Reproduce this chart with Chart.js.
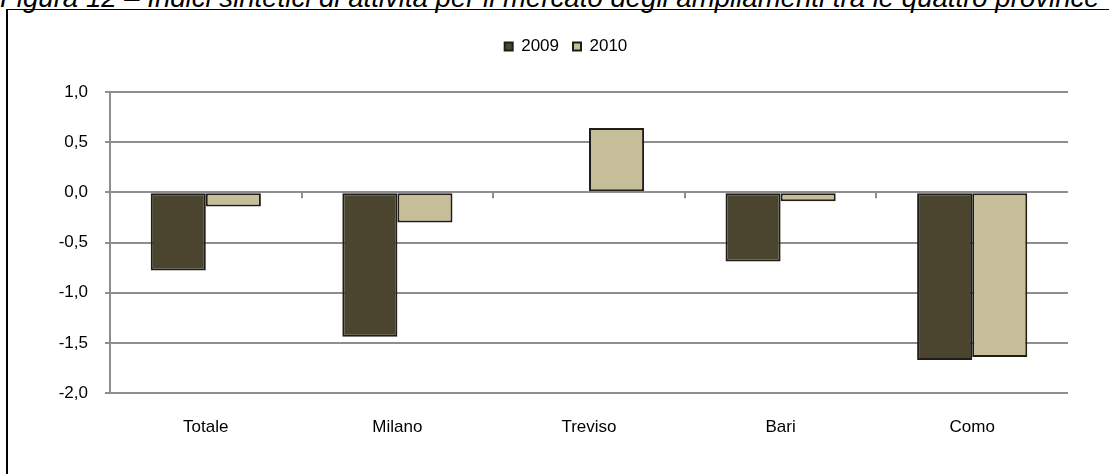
<!DOCTYPE html>
<html>
<head>
<meta charset="utf-8">
<script src="https://cdn.jsdelivr.net/npm/chart.js@4"></script>
<style>
  html, body { margin: 0; padding: 0; background: #fff; }
  body { width: 1109px; height: 474px; position: relative; overflow: hidden; }
  #title {
    position: absolute; left: 0px; top: -16px; white-space: nowrap;
    font: italic 27.6px "Liberation Sans", Arial, sans-serif; line-height: 27px; color: #000;
  }
  #frameTop { position: absolute; left: 6px; top: 9px; width: 1103px; height: 1px; background: #000; }
  #frameLeft { position: absolute; left: 6px; top: 9px; width: 2px; height: 470px; background: #000; }
  #wrap { position: absolute; left: 0; top: 0; width: 1109px; height: 474px; }
</style>
</head>
<body>
<div id="title">Figura 12 – Indici sintetici di attività per il mercato degli ampliamenti tra le quattro province</div>
<div id="frameTop"></div>
<div id="frameLeft"></div>
<div id="wrap"><canvas id="chart"></canvas></div>
<script>
const categories = ["Totale", "Milano", "Treviso", "Bari", "Como"];
const values2009 = [-0.78, -1.44, 0.01, -0.69, -1.67];
const values2010 = [-0.14, -0.30, 0.64, -0.09, -1.64];
const seriesLabels = ["2009", "2010"];

const font = "'Liberation Sans', Arial, sans-serif";

// small tick marks on the zero line between categories (Excel style)
const zeroTicks = {
  id: 'zeroTicks',
  afterDatasetsDraw(chart) {
    const {ctx, scales: {x, y}} = chart;
    const y0 = y.getPixelForValue(0);
    const step = x.getPixelForValue(1) - x.getPixelForValue(0);
    ctx.save();
    ctx.strokeStyle = '#8e8e8e';
    ctx.lineWidth = 2;
    for (let i = 1; i < categories.length; i++) {
      const px = Math.round(x.getPixelForValue(i) - step / 2);
      ctx.beginPath();
      ctx.moveTo(px, y0);
      ctx.lineTo(px, y0 + 6);
      ctx.stroke();
    }
    ctx.restore();
  }
};

// fixed legend height so the plot starts where it should, and legend centred on the page
const legendFix = {
  id: 'legendFix',
  beforeLayout(chart) {
    const lg = chart.legend;
    if (lg && !lg._fixed) {
      const fit = lg.fit.bind(lg);
      lg.fit = function () { fit(); this.height = 68; };
      lg._fixed = true;
    }
  },
  afterLayout(chart) {
    const lg = chart.legend;
    lg.left += 32;
    lg.right += 32;
  }
};

new Chart(document.getElementById('chart'), {
  type: 'bar',
  data: {
    labels: categories,
    datasets: [
      {
        label: seriesLabels[0],
        data: values2009,
        backgroundColor: '#4b4530',
        borderColor: '#1f1d15',
        borderWidth: 2,
        borderSkipped: false,
        categoryPercentage: 0.575,
        barPercentage: 1
      },
      {
        label: seriesLabels[1],
        data: values2010,
        backgroundColor: '#c5be98',
        borderColor: '#1f1d15',
        borderWidth: 2,
        borderSkipped: false,
        categoryPercentage: 0.575,
        barPercentage: 1
      }
    ]
  },
  options: {
    responsive: true,
    maintainAspectRatio: false,
    animation: false,
    layout: { padding: { top: 24, right: 41, bottom: 0, left: 0 } },
    scales: {
      x: {
        grid: { display: false, drawTicks: false },
        border: { display: false },
        ticks: { color: '#000', font: { family: font, size: 17 }, padding: 24 },
        afterFit: s => { s.height = 81; }
      },
      y: {
        min: -2,
        max: 1,
        ticks: {
          stepSize: 0.5,
          color: '#000',
          padding: 17,
          font: { family: font, size: 17 },
          callback: v => v.toFixed(1).replace('.', ',')
        },
        grid: { color: '#8e8e8e', lineWidth: 2, tickLength: 5 },
        border: { color: '#8e8e8e', width: 2 },
        afterFit: s => { s.width = 110; }
      }
    },
    plugins: {
      legend: {
        position: 'top',
        labels: {
          boxWidth: 8,
          boxHeight: 8,
          padding: 14,
          color: '#000',
          font: { family: font, size: 17 }
        }
      },
      tooltip: { enabled: false }
    }
  },
  plugins: [zeroTicks, legendFix]
});
</script>
</body>
</html>
